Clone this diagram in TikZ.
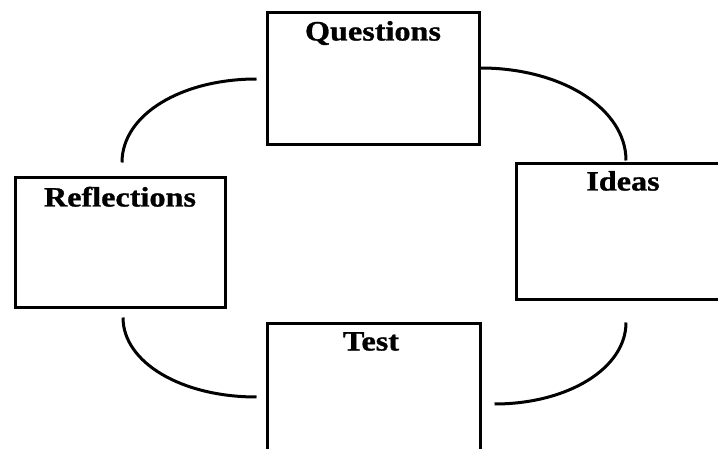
\documentclass[tikz,border=0pt]{standalone}
\usepackage{fontspec}
\setmainfont{Liberation Serif}[FakeStretch=1.15, BoldFeatures={FakeBold=1}]
\usepackage{tikz}

\begin{document}
\begin{tikzpicture}[x=1pt, y=-1pt,
        stagebox/.style={rectangle, draw, line width=3pt, inner sep=0pt},
        stagetitle/.style={anchor=base, inner sep=0pt, font=\fontsize{28}{32}\selectfont\bfseries},
        cycleline/.style={line width=3pt}]
        % Cycle of stages
        \useasboundingbox (0,0) rectangle (718,449);
        \clip (0,0) rectangle (718,449);

        \node[stagebox, minimum width=212pt, minimum height=132pt] (questions) at (373, 79) {};
        \node[stagebox, minimum width=210pt, minimum height=130pt] (reflections) at (120, 243) {};
        \node[stagebox, minimum width=213pt, minimum height=136pt] (ideas) at (623, 232) {};
        \node[stagebox, minimum width=213pt, minimum height=133pt] (test) at (374, 389.5) {};

        \node[stagetitle] (questionstitle) at ([yshift=-29pt]questions.north) {Questions};
        \node[stagetitle] (reflectionstitle) at ([yshift=-30pt]reflections.north) {Reflections};
        \node[stagetitle] (ideastitle) at ([yshift=-28pt]ideas.north) {Ideas};
        \node[stagetitle] (testtitle) at ([xshift=-3pt, yshift=-29pt]test.north) {Test};

        \draw[cycleline] ([xshift=2pt, yshift=14pt]reflections.north) .. controls +(0,-48) and +(-75,0) .. ([xshift=-9pt]questions.west);
        \draw[cycleline] ([yshift=11pt]questions.east) .. controls +(81,0) and +(0,-52) .. ([xshift=3pt, yshift=2pt]ideas.north);
        \draw[cycleline] ([xshift=3pt, yshift=-8pt]reflections.south) .. controls +(0,45) and +(-75,0) .. ([xshift=-9.5pt, yshift=-7.5pt]test.west);
        \draw[cycleline] ([xshift=3pt, yshift=-21pt]ideas.south) .. controls +(0,46) and +(73,0) .. ([xshift=12.5pt, yshift=-14.5pt]test.east);

        \end{tikzpicture}
\end{document}
